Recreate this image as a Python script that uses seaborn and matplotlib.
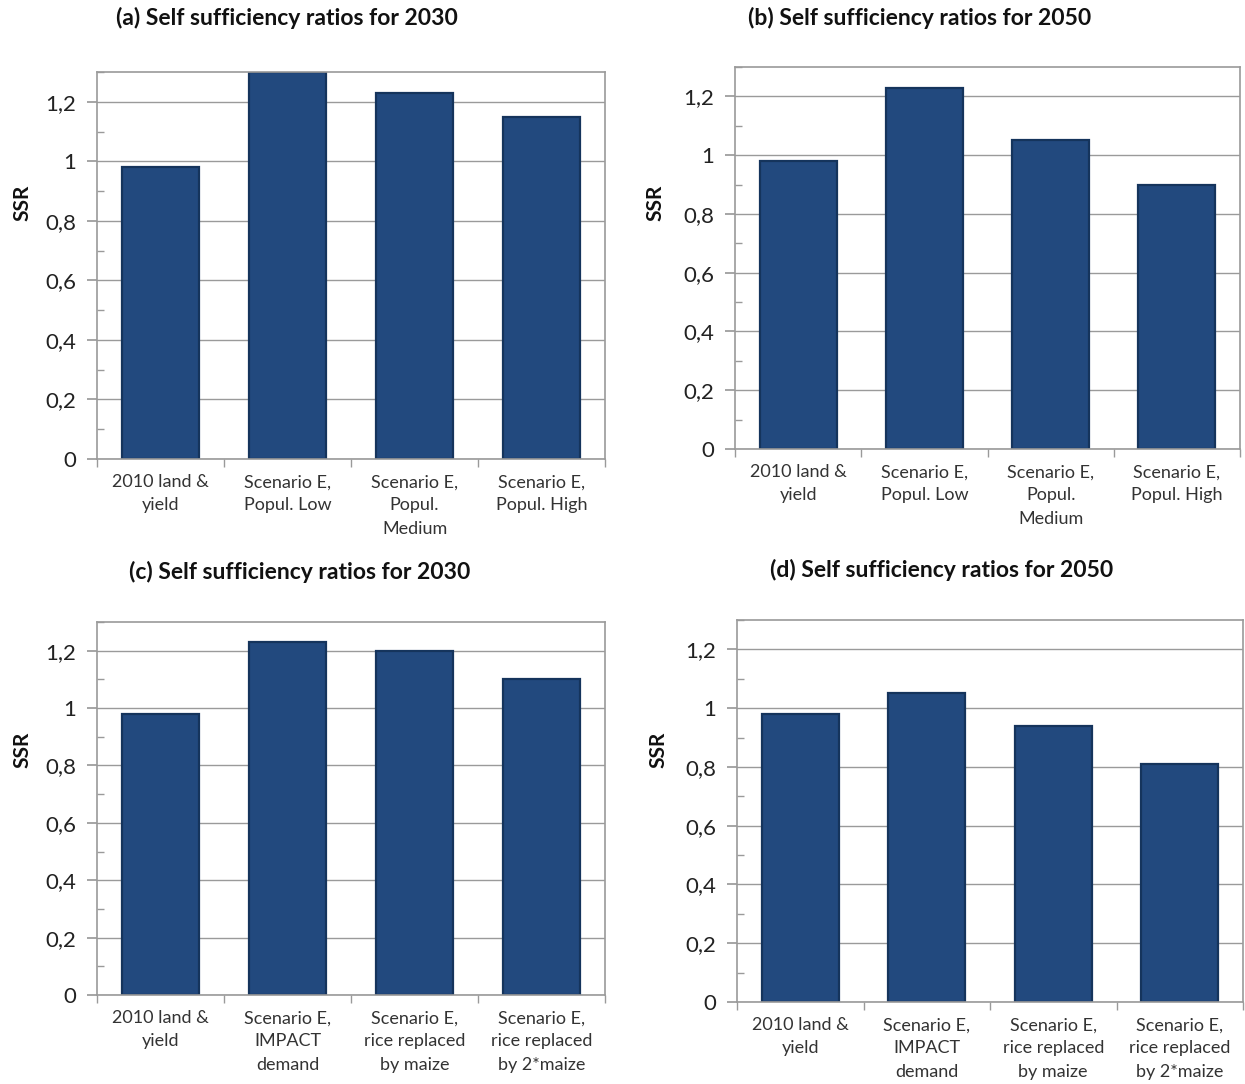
import numpy as np
import pandas as pd
import matplotlib
matplotlib.use("Agg")
import matplotlib.pyplot as plt
import matplotlib.ticker as mticker
import seaborn as sns

# values
labels_ab = ["2010 land &\nyield", "Scenario E,\nPopul. Low", "Scenario E,\nPopul.\nMedium", "Scenario E,\nPopul. High"]
labels_cd = ["2010 land &\nyield", "Scenario E,\nIMPACT\ndemand", "Scenario E,\nrice replaced\nby maize", "Scenario E,\nrice replaced\nby 2*maize"]
ssr_a = [0.98, 1.30, 1.23, 1.15]
ssr_b = [0.98, 1.23, 1.05, 0.90]
ssr_c = [0.98, 1.23, 1.20, 1.10]
ssr_d = [0.98, 1.05, 0.94, 0.81]
titles = ["(a) Self sufficiency ratios for 2030", "(b) Self sufficiency ratios for 2050",
          "(c) Self sufficiency ratios for 2030", "(d) Self sufficiency ratios for 2050"]

sns.set_theme(style="white")
plt.rcParams['font.family'] = ['Lato', 'DejaVu Sans']

W, H = 1245, 1084
fig = plt.figure(figsize=(W / 100, H / 100), dpi=100)

# panel boxes in pixels: left, top, right, bottom
boxes = [(97, 72, 605, 459), (735, 67, 1240, 449), (97, 622, 605, 995), (737, 620, 1243, 1002)]
title_pos = [(287, 18), (920, 18), (300, 572), (942, 570)]
ylab_pos = [(22, 203), (655, 203), (22, 750), (658, 750)]
panels = [(labels_ab, ssr_a), (labels_ab, ssr_b), (labels_cd, ssr_c), (labels_cd, ssr_d)]

bar_col = "#22497e"
grid_col = "#9a9a9a"


def comma_fmt(v, p):
    if abs(v) < 1e-9:
        return "0"
    if abs(v - 1) < 1e-9:
        return "1"
    return f"{v:.1f}".replace(".", ",")


for i, ((labs, vals), (l, t, r, b)) in enumerate(zip(panels, boxes)):
    ax = fig.add_axes([l / W, 1 - b / H, (r - l) / W, (b - t) / H])
    df = pd.DataFrame({"cat": labs, "ssr": vals})
    sns.barplot(data=df, x="cat", y="ssr", color=bar_col, width=0.61, saturation=1,
                edgecolor="#15345c", linewidth=1.6, ax=ax)
    ax.set_ylim(0, 1.3)
    ax.set_xlim(-0.5, 3.5)
    ax.set_yticks(np.arange(0, 1.21, 0.2))
    ax.yaxis.set_major_formatter(mticker.FuncFormatter(comma_fmt))
    ax.yaxis.set_minor_locator(mticker.MultipleLocator(0.1))
    ax.tick_params(axis="y", which="major", direction="out", length=7, color=grid_col,
                   labelsize=16, labelcolor="#222222", left=True, pad=8)
    ax.tick_params(axis="y", which="minor", direction="in", length=5, color=grid_col, left=True)
    ax.set_xticks(range(4))
    ax.set_xticklabels(labs, linespacing=1.55)
    ax.xaxis.set_minor_locator(mticker.FixedLocator(np.arange(-0.5, 4, 1)))
    ax.tick_params(axis="x", which="major", length=0, labelsize=13, labelcolor="#333333", pad=11)
    ax.tick_params(axis="x", which="minor", direction="out", length=6, color=grid_col, bottom=True)
    ax.grid(axis="y", color=grid_col, linewidth=1)
    ax.set_axisbelow(True)
    for s in ax.spines.values():
        s.set_color(grid_col)
        s.set_linewidth(1.2)
    ax.set_xlabel("")
    ax.set_ylabel("")
    fig.text(title_pos[i][0] / W, 1 - title_pos[i][1] / H, titles[i], ha="center", va="center",
             fontsize=16.5, fontweight="bold", color="#111111")
    fig.text(ylab_pos[i][0] / W, 1 - ylab_pos[i][1] / H, "SSR", ha="center", va="center",
             rotation=90, fontsize=15, fontweight="bold", color="#111111")

fig.savefig("out.png", dpi=100, facecolor="white")
